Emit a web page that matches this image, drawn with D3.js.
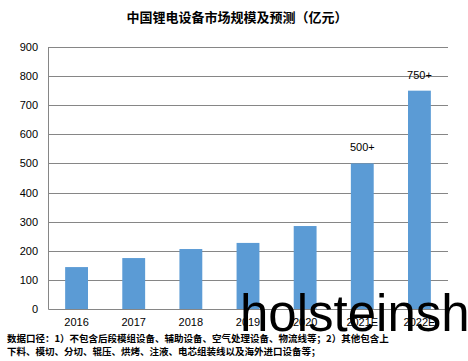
<!DOCTYPE html>
<html>
<head>
<meta charset="utf-8">
<script src="https://cdn.jsdelivr.net/npm/d3@7"></script>
<style>
  body { margin: 0; background: #fff; }
  svg { display: block; }
</style>
</head>
<body>
<div id="canvas"></div>
<script>
// chart data
const years = ["2016", "2017", "2018", "2019", "2020", "2021E", "2022E"];
const market = [144, 175, 206, 227, 285, 500, 750];
const barNotes = ["", "", "", "", "", "500+", "750+"];
const yTicks = [0, 100, 200, 300, 400, 500, 600, 700, 800, 900];

const title = "中国锂电设备市场规模及预测（亿元）";
const notes = [
    "数据口径：1）不包含后段模组设备、辅助设备、空气处理设备、物流线等；2）其他包含上",
    "下料、模切、分切、辊压、烘烤、注液、电芯组装线以及海外进口设备等；"
];

const width = 468;
const height = 361;
const margin = { top: 47, left: 48, bottom: 52, right: 20 };
const iwidth = width - margin.left - margin.right;
const iheight = height - margin.top - margin.bottom;

const svg = d3.select("#canvas").append("svg")
    .attr("width", width)
    .attr("height", height);

svg.append("text")
    .attr("x", 237)
    .attr("y", 22)
    .attr("text-anchor", "middle")
    .style("font-family", "'Noto Sans CJK SC'")
    .style("font-weight", "bold")
    .style("font-size", "13px")
    .text(title);

const g = svg.append("g").attr("transform", `translate(${margin.left},${margin.top})`);

const y = d3.scaleLinear().domain([0, 900]).range([iheight, 0]);
const x = d3.scaleBand().domain(years).range([0, iwidth])
    .paddingInner(0.6).paddingOuter(0.3);

// gridlines
g.selectAll("line.grid").data(yTicks.filter(d => d > 0)).enter().append("line")
    .attr("class", "grid")
    .attr("x1", 0).attr("x2", iwidth)
    .attr("y1", d => Math.round(y(d)) + 0.5)
    .attr("y2", d => Math.round(y(d)) + 0.5)
    .attr("stroke", "#868686");

g.selectAll("rect").data(market).enter().append("rect")
    .attr("x", (d, i) => x(years[i]))
    .attr("y", d => y(d))
    .attr("width", x.bandwidth())
    .attr("height", d => iheight - y(d))
    .style("fill", "#5b9bd5");

g.selectAll("text.note").data(market).enter().append("text")
    .attr("class", "note")
    .attr("x", (d, i) => x(years[i]) + x.bandwidth() / 2)
    .attr("y", d => y(d) - 12)
    .attr("text-anchor", "middle")
    .style("font-family", "'Liberation Sans', Arial")
    .style("font-size", "11px")
    .text((d, i) => barNotes[i]);

const yAxis = g.append("g")
    .call(d3.axisLeft(y).tickValues(yTicks).tickSize(0).tickPadding(10));
yAxis.select(".domain").attr("stroke", "#868686");
yAxis.selectAll("text")
    .style("font-family", "'Liberation Sans', Arial")
    .style("font-size", "11px")
    .attr("fill", "#000");

const xAxis = g.append("g")
    .attr("transform", `translate(0,${iheight})`)
    .call(d3.axisBottom(x).tickSize(0).tickPadding(9));
xAxis.select(".domain").attr("stroke", "#868686");
xAxis.selectAll("text")
    .style("font-family", "'Liberation Sans', Arial")
    .style("font-size", "11px")
    .attr("fill", "#000");

svg.selectAll("text.foot").data(notes).enter().append("text")
    .attr("class", "foot")
    .attr("x", 7)
    .attr("y", (d, i) => 342 + i * 13)
    .style("font-family", "'Noto Sans CJK SC'")
    .style("font-weight", "bold")
    .style("font-size", "9.5px")
    .text(d => d);

// overlay text in the picture
svg.append("text")
    .attr("x", 240)
    .attr("y", 331)
    .style("font-family", "'Liberation Sans', Arial")
    .style("font-size", "51px")
    .attr("fill", "#000")
    .text("holsteinsh");
</script>
</body>
</html>
